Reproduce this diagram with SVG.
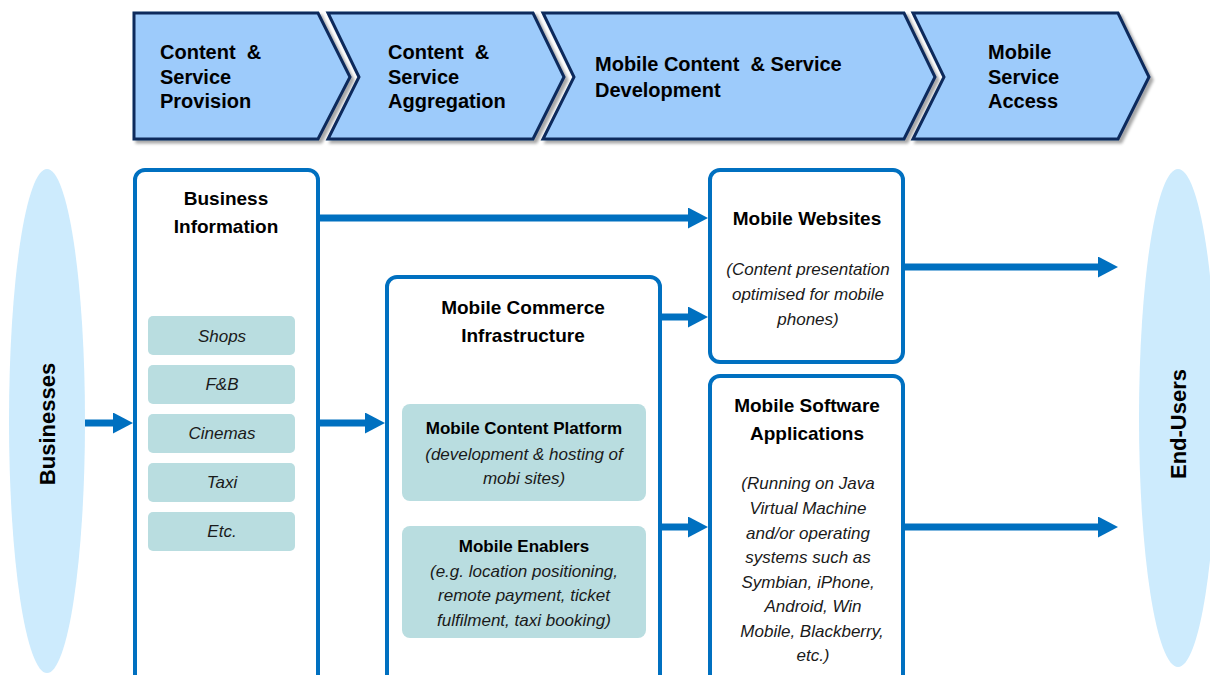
<svg xmlns="http://www.w3.org/2000/svg" width="1210" height="675" viewBox="0 0 1210 675">
<style>
.chev{fill:#9DCBFB;stroke:#0D2A5C;stroke-width:3;stroke-linejoin:miter}
.ct{font-family:"Liberation Sans",Arial,sans-serif;font-weight:bold;font-size:20px;fill:#000}
.box{fill:#fff;stroke:#0070C0;stroke-width:4}
.sub{fill:#B9DDE0}
.tt{font-family:"Liberation Sans",Arial,sans-serif;font-weight:bold;font-size:19px;fill:#000;text-anchor:middle}
.st{font-family:"Liberation Sans",Arial,sans-serif;font-weight:bold;font-size:17px;fill:#000;text-anchor:middle}
.it{font-family:"Liberation Sans",Arial,sans-serif;font-style:italic;font-size:17px;fill:#1a1a1a;text-anchor:middle}
.ell{fill:#CDEBFD}
.et{font-family:"Liberation Sans",Arial,sans-serif;font-weight:bold;font-size:22px;fill:#000;text-anchor:middle}
.arr{stroke:#0070C0;stroke-width:7;fill:none;marker-end:url(#ah)}
</style>
<defs>
<marker id="ah" markerUnits="userSpaceOnUse" markerWidth="20" markerHeight="21" refX="2" refY="10.5" orient="auto">
<path d="M0,0 L20,10.5 L0,21 z" fill="#0070C0"/>
</marker>
<filter id="sh" x="-5%" y="-10%" width="115%" height="130%">
<feDropShadow dx="3" dy="3" stdDeviation="1.5" flood-color="#000" flood-opacity="0.35"/>
</filter>
</defs>
<rect width="1210" height="675" fill="#fff"/>

<g id="chevron-provision">
<polygon class="chev" filter="url(#sh)" points="134,13 318,13 350,77 318,139 134,139"/>
<text class="ct" x="160" y="59" xml:space="preserve">Content  &amp;</text>
<text class="ct" x="160" y="84">Service</text>
<text class="ct" x="160" y="108">Provision</text>
</g>
<g id="chevron-aggregation">
<polygon class="chev" filter="url(#sh)" points="328,13 533,13 564,77 533,139 328,139 359,77"/>
<text class="ct" x="388" y="59" xml:space="preserve">Content  &amp;</text>
<text class="ct" x="388" y="84">Service</text>
<text class="ct" x="388" y="108">Aggregation</text>
</g>
<g id="chevron-development">
<polygon class="chev" filter="url(#sh)" points="543,13 904,13 935,77 904,139 543,139 574,77"/>
<text class="ct" x="595" y="71" xml:space="preserve">Mobile Content  &amp; Service</text>
<text class="ct" x="595" y="97">Development</text>
</g>
<g id="chevron-access">
<polygon class="chev" filter="url(#sh)" points="913,13 1118,13 1149,77 1118,139 913,139 944,77"/>
<text class="ct" x="988" y="59">Mobile</text>
<text class="ct" x="988" y="84">Service</text>
<text class="ct" x="988" y="108">Access</text>
</g>

<g id="businesses">
<ellipse class="ell" cx="47" cy="421" rx="38" ry="252"/>
<text class="et" transform="translate(55,424) rotate(-90)">Businesses</text>
</g>
<g id="end-users">
<ellipse class="ell" cx="1178" cy="418" rx="39" ry="249"/>
<text class="et" transform="translate(1186,424) rotate(-90)">End-Users</text>
</g>

<g id="business-information">
<rect class="box" x="135" y="170" width="183" height="530" rx="10"/>
<text class="tt" x="226" y="205">Business</text>
<text class="tt" x="226" y="233">Information</text>
<rect class="sub" x="148" y="316" width="147" height="39" rx="5"/>
<text class="it" x="222" y="342">Shops</text>
<rect class="sub" x="148" y="365" width="147" height="39" rx="5"/>
<text class="it" x="222" y="390">F&amp;B</text>
<rect class="sub" x="148" y="414" width="147" height="39" rx="5"/>
<text class="it" x="222" y="439">Cinemas</text>
<rect class="sub" x="148" y="463" width="147" height="39" rx="5"/>
<text class="it" x="222" y="488">Taxi</text>
<rect class="sub" x="148" y="512" width="147" height="39" rx="5"/>
<text class="it" x="222" y="537">Etc.</text>
</g>

<g id="mobile-commerce-infrastructure">
<rect class="box" x="387" y="277" width="273" height="420" rx="10"/>
<text class="tt" x="523" y="314">Mobile Commerce</text>
<text class="tt" x="523" y="342">Infrastructure</text>
<rect class="sub" x="402" y="404" width="244" height="97" rx="8"/>
<text class="st" x="524" y="434">Mobile Content Platform</text>
<text class="it" x="524" y="460">(development &amp; hosting of</text>
<text class="it" x="524" y="484">mobi sites)</text>
<rect class="sub" x="402" y="526" width="244" height="112" rx="8"/>
<text class="st" x="524" y="552">Mobile Enablers</text>
<text class="it" x="524" y="577">(e.g. location positioning,</text>
<text class="it" x="524" y="601">remote payment, ticket</text>
<text class="it" x="524" y="626">fulfilment, taxi booking)</text>
</g>

<g id="mobile-websites">
<rect class="box" x="710" y="170" width="193" height="192" rx="10"/>
<text class="tt" x="807" y="225">Mobile Websites</text>
<text class="it" x="808" y="275">(Content presentation</text>
<text class="it" x="808" y="300">optimised for mobile</text>
<text class="it" x="808" y="325">phones)</text>
</g>

<g id="mobile-software-applications">
<rect class="box" x="710" y="376" width="193" height="320" rx="10"/>
<text class="tt" x="807" y="412">Mobile Software</text>
<text class="tt" x="807" y="440">Applications</text>
<text class="it" x="808" y="489">(Running on Java</text>
<text class="it" x="808" y="514">Virtual Machine</text>
<text class="it" x="808" y="539">and/or operating</text>
<text class="it" x="808" y="563">systems such as</text>
<text class="it" x="808" y="588">Symbian, iPhone,</text>
<text class="it" x="813" y="612">Android, Win</text>
<text class="it" x="812" y="637">Mobile, Blackberry,</text>
<text class="it" x="813" y="661">etc.)</text>
</g>

<g id="connectors">
<line class="arr" x1="85" y1="423" x2="115" y2="423"/>
<line class="arr" x1="320" y1="423" x2="367" y2="423"/>
<line class="arr" x1="320" y1="218" x2="690" y2="218"/>
<line class="arr" x1="662" y1="317" x2="690" y2="317"/>
<line class="arr" x1="662" y1="527" x2="690" y2="527"/>
<line class="arr" x1="905" y1="267" x2="1100" y2="267"/>
<line class="arr" x1="905" y1="527" x2="1100" y2="527"/>
</g>
</svg>
